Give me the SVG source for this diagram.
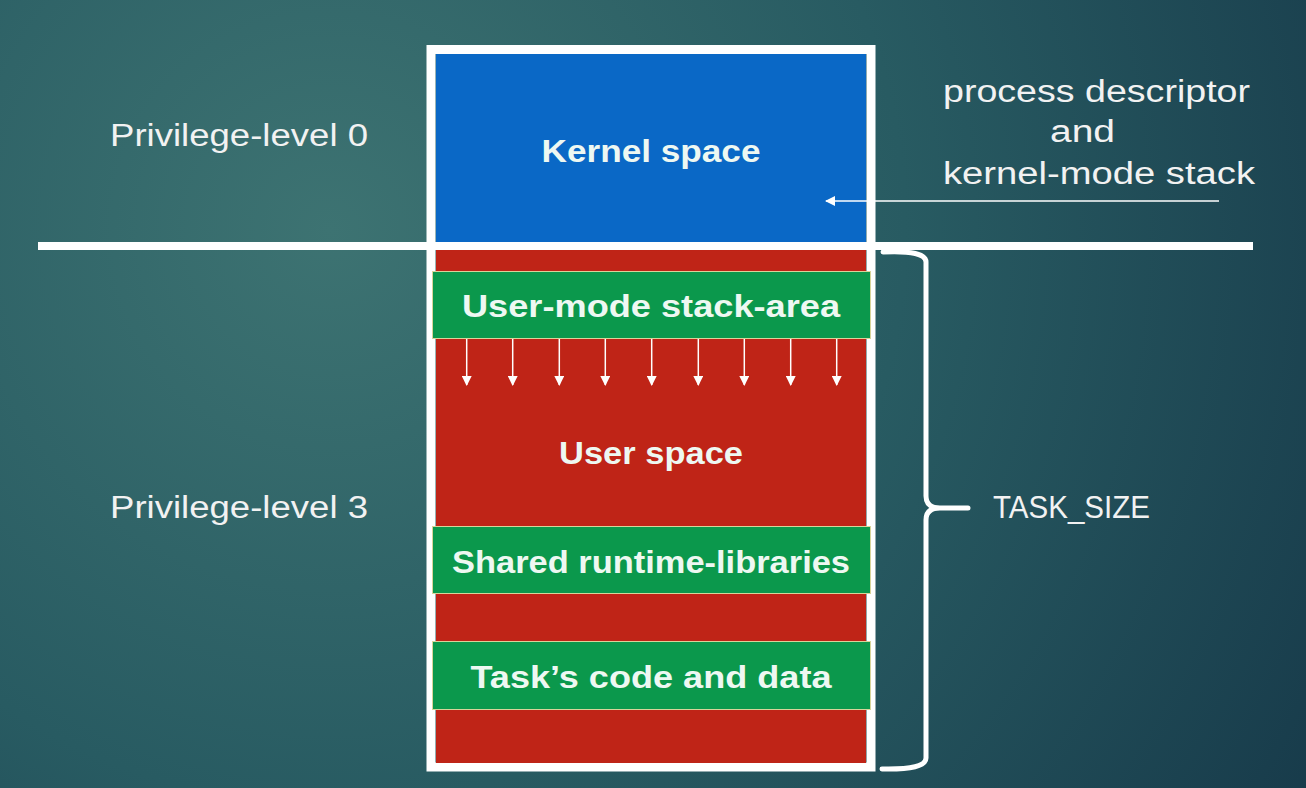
<svg xmlns="http://www.w3.org/2000/svg" width="1306" height="788" viewBox="0 0 1306 788">
<defs>
<radialGradient id="bg" cx="330" cy="230" r="1150" gradientUnits="userSpaceOnUse">
<stop offset="0" stop-color="#3d7372"/>
<stop offset="0.5" stop-color="#285b62"/>
<stop offset="1" stop-color="#173a4a"/>
</radialGradient>
<marker id="ah" viewBox="0 0 10 10" refX="9" refY="5" markerWidth="10" markerHeight="10" markerUnits="userSpaceOnUse" orient="auto">
<path d="M0,0 L10,5 L0,10 Z" fill="#ffffff"/>
</marker>
</defs>
<style>
.lbl{font-family:"Liberation Sans",Arial,sans-serif;font-size:31px;fill:#f2f2f2}
.bold{font-family:"Liberation Sans",Arial,sans-serif;font-size:32px;font-weight:bold;fill:#eef8f2;text-anchor:middle}
.green{fill:#0b984c;stroke:#d8d49a;stroke-width:1}
.red{fill:#bf2417}
.wl{stroke:#ffffff;fill:none}
</style>
<rect width="1306" height="788" fill="url(#bg)"/>

<g id="divider">
<line x1="38" y1="246" x2="1253" y2="246" class="wl" stroke-width="8"/>
</g>

<g id="frame">
<rect x="431" y="49.5" width="440" height="717.5" class="wl" stroke-width="9"/>
</g>

<g id="kernel-space">
<rect x="436" y="54" width="430" height="188" fill="#0a68c6"/>
<text x="651" y="162" class="bold" textLength="219" lengthAdjust="spacingAndGlyphs">Kernel space</text>
</g>

<g id="user-space">
<rect x="436" y="250" width="430" height="513" class="red"/>
<text x="651" y="464" class="bold" textLength="184" lengthAdjust="spacingAndGlyphs">User space</text>
</g>

<g id="user-stack">
<rect x="432.5" y="271.5" width="438" height="67" class="green"/>
<text x="651" y="317" class="bold" textLength="378" lengthAdjust="spacingAndGlyphs">User-mode stack-area</text>
</g>

<g id="shared-libs">
<rect x="432.5" y="526.5" width="438" height="67" class="green"/>
<text x="651" y="573" class="bold" textLength="398" lengthAdjust="spacingAndGlyphs">Shared runtime-libraries</text>
</g>

<g id="task-code">
<rect x="432.5" y="641.5" width="438" height="68" class="green"/>
<text x="651" y="688" class="bold" textLength="361" lengthAdjust="spacingAndGlyphs">Task’s code and data</text>
</g>

<g id="labels">
<text x="110" y="146" class="lbl" textLength="258" lengthAdjust="spacingAndGlyphs">Privilege-level 0</text>
<text x="110" y="518" class="lbl" textLength="258" lengthAdjust="spacingAndGlyphs">Privilege-level 3</text>
<text x="943" y="102" class="lbl" textLength="307" lengthAdjust="spacingAndGlyphs">process descriptor</text>
<text x="1050" y="142" class="lbl" textLength="65" lengthAdjust="spacingAndGlyphs">and</text>
<text x="943" y="184" class="lbl" textLength="312" lengthAdjust="spacingAndGlyphs">kernel-mode stack</text>
<text x="993" y="518" class="lbl" textLength="157" lengthAdjust="spacingAndGlyphs">TASK_SIZE</text>
</g>

<g id="connectors">
<line x1="1219" y1="201" x2="826" y2="201" stroke="#ffffff" stroke-width="1.5" marker-end="url(#ah)"/>
<g stroke="#ffffff" stroke-width="1.5" marker-end="url(#ah)">
<line x1="466.7" y1="339" x2="466.7" y2="385"/>
<line x1="512.7" y1="339" x2="512.7" y2="385"/>
<line x1="559.3" y1="339" x2="559.3" y2="385"/>
<line x1="605.3" y1="339" x2="605.3" y2="385"/>
<line x1="651.7" y1="339" x2="651.7" y2="385"/>
<line x1="698.3" y1="339" x2="698.3" y2="385"/>
<line x1="744.3" y1="339" x2="744.3" y2="385"/>
<line x1="790.7" y1="339" x2="790.7" y2="385"/>
<line x1="836.7" y1="339" x2="836.7" y2="385"/>
</g>
<path d="M883,252 Q926,250 926,262 L926,496 Q926,508 940,508 L968,508 M940,508 Q926,508 926,520 L926,758 Q926,770 882,769" class="wl" stroke-width="5" stroke-linecap="round"/>
</g>
</svg>
